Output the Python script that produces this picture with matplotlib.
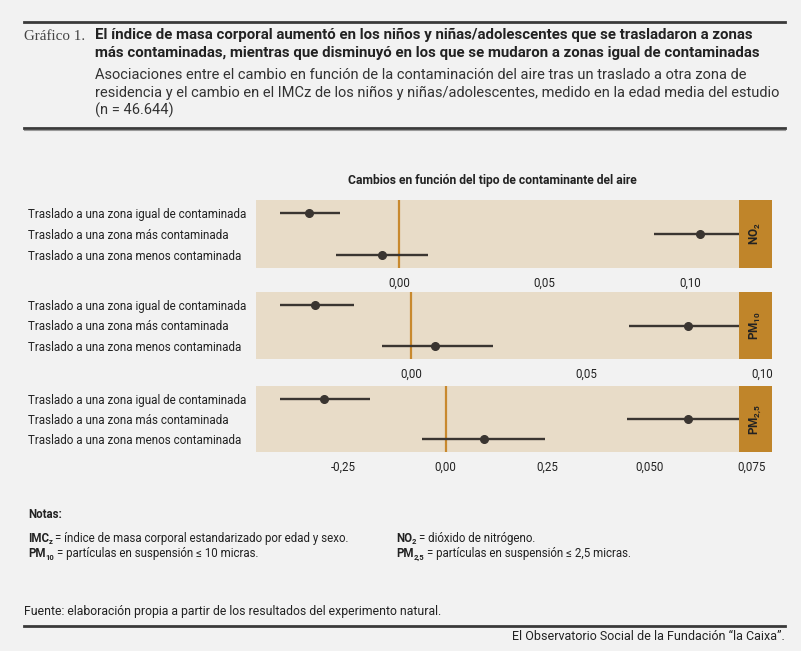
import matplotlib
matplotlib.use("Agg")
import matplotlib.pyplot as plt
from matplotlib.patches import Rectangle

plt.rcParams['font.family'] = ['Roboto', 'DejaVu Sans']
plt.rcParams['mathtext.fontset'] = 'custom'
plt.rcParams['mathtext.rm'] = 'Roboto'
plt.rcParams['mathtext.bf'] = 'Roboto:bold'

# datos
rows = ["Traslado a una zona igual de contaminada",
        "Traslado a una zona más contaminada",
        "Traslado a una zona menos contaminada"]
pollutants = [r"NO$_\mathbf{2}$", r"PM$_\mathbf{10}$", r"PM$_\mathbf{2{,}5}$"]

no2_est = [-0.0309, 0.1036, -0.0058]
no2_low = [-0.0410, 0.0876, -0.0217]
no2_high = [-0.0203, 0.1196, 0.0100]

pm10_est = [-0.0273, 0.0789, 0.0068]
pm10_low = [-0.0374, 0.0619, -0.0082]
pm10_high = [-0.0163, 0.0959, 0.0233]

pm25_est = [-0.0298, 0.0593, 0.0093]
pm25_low = [-0.0405, 0.0443, -0.0057]
pm25_high = [-0.0186, 0.0743, 0.0244]

ticks = [[0.0, 0.05, 0.10], [0.0, 0.05, 0.10], [-0.025, 0.0, 0.025, 0.05, 0.075]]
tick_labels = [["0,00", "0,05", "0,10"], ["0,00", "0,05", "0,10"],
               ["-0,25", "0,00", "0,25", "0,050", "0,075"]]
xlims = [(-0.0491, 0.1282), (-0.0441, 0.1027), (-0.0464, 0.0799)]

W, H = 801, 651
BG = "#f2f2f2"
PANEL = "#e8dcc8"
STRIP = "#c0852a"
ZERO = "#c8892e"
INK = "#3a3531"

fig = plt.figure(figsize=(W / 100, H / 100), dpi=100, facecolor=BG)
renderer = fig.canvas.get_renderer()


def fx(x):
    return x / W


def fy(y):
    return 1 - y / H


def hline(x0, x1, y, lw, color):
    fig.add_artist(plt.Line2D([fx(x0), fx(x1)], [fy(y), fy(y)], lw=lw, color=color,
                              transform=fig.transFigure))


def note(x, y, bold, sub, rest, size=8.3):
    # texto en negrita + subíndice + resto, colocados uno tras otro
    t = fig.text(fx(x), fy(y), bold, fontsize=size, fontweight="bold",
                 color="#222222", va="baseline")
    x1 = t.get_window_extent(renderer).x1
    s = fig.text(x1 / W, fy(y + 2.5), sub, fontsize=5.5, fontweight="bold",
                 color="#222222", va="baseline")
    x2 = s.get_window_extent(renderer).x1
    fig.text(x2 / W + 0.003, fy(y), "= " + rest, fontsize=size, color="#222222",
             va="baseline")


# cabecera
hline(24, 785, 22, 2.0, "#3a3a3a")
fig.text(fx(24), fy(36), "Gráfico 1.", family="Liberation Serif", fontsize=10.8,
         color="#444444", va="center")
fig.text(fx(95), fy(35), "El índice de masa corporal aumentó en los niños y niñas/adolescentes que se trasladaron a zonas",
         fontsize=10.8, fontweight="bold", color="#222222", va="center")
fig.text(fx(95), fy(53), "más contaminadas, mientras que disminuyó en los que se mudaron a zonas igual de contaminadas",
         fontsize=10.8, fontweight="bold", color="#222222", va="center")
subtitle = ["Asociaciones entre el cambio en función de la contaminación del aire tras un traslado a otra zona de",
            "residencia y el cambio en el IMCz de los niños y niñas/adolescentes, medido en la edad media del estudio",
            "(n = 46.644)"]
for i, s in enumerate(subtitle):
    fig.text(fx(95), fy(75 + 17.5 * i), s, fontsize=10.5, color="#333333", va="center")
hline(24, 785, 127.5, 2.0, "#3a3a3a")
hline(24, 785, 129.5, 0.8, "#9a9a9a")

fig.text(fx(492), fy(181), "Cambios en función del tipo de contaminante del aire",
         fontsize=8.7, fontweight="bold", color="#222222", ha="center", va="center")

panels = [(200, 268), (292, 359), (386, 452)]
series = [(no2_est, no2_low, no2_high), (pm10_est, pm10_low, pm10_high),
          (pm25_est, pm25_low, pm25_high)]

for k, (top, bottom) in enumerate(panels):
    ax = fig.add_axes([fx(256), fy(bottom), fx(772) - fx(256), (bottom - top) / H])
    ax.set_facecolor(PANEL)
    for sp in ax.spines.values():
        sp.set_visible(False)
    est, low, high = series[k]
    ypos = list(range(len(rows)))
    ax.hlines(ypos, low, high, color=INK, lw=1.7, zorder=3)
    ax.plot(est, ypos, "o", color=INK, ms=5.5, zorder=4)
    ax.axvline(0, color=ZERO, lw=1.6, zorder=2)
    ax.set_xlim(*xlims[k])
    ax.set_ylim(2.62, -0.62)
    ax.set_xticks(ticks[k])
    ax.set_xticklabels(tick_labels[k])
    ax.set_yticks(ypos)
    ax.set_yticklabels(rows)
    ax.tick_params(axis="x", length=0, pad=6, labelsize=8.3, labelcolor="#222222")
    ax.tick_params(axis="y", length=0, pad=(256 - 28) * 0.72, labelsize=8.4,
                   labelcolor="#222222")
    for lbl in ax.get_yticklabels():
        lbl.set_horizontalalignment("left")
    sx = (739 - 256) / (772 - 256)
    ax.add_patch(Rectangle((sx, 0), 1 - sx, 1, transform=ax.transAxes,
                           facecolor=STRIP, edgecolor="none", zorder=5))
    ax.text((1 + sx) / 2, 0.5, pollutants[k], transform=ax.transAxes, rotation=90,
            ha="center", va="center", fontsize=8.5, fontweight="bold", color="#222222",
            zorder=6)

# notas
fig.text(fx(28), fy(514), "Notas:", fontsize=8.3, fontweight="bold", color="#222222", va="center")
note(28, 542, "IMC", "z", "índice de masa corporal estandarizado por edad y sexo.")
note(28, 557, "PM", "10", "partículas en suspensión ≤ 10 micras.")
note(396, 542, "NO", "2", "dióxido de nitrógeno.")
note(396, 557, "PM", "2,5", "partículas en suspensión ≤ 2,5 micras.")

fig.text(fx(24), fy(611), "Fuente: elaboración propia a partir de los resultados del experimento natural.",
         fontsize=8.8, color="#222222", va="center")
hline(24, 785, 626, 2.0, "#3a3a3a")
fig.text(fx(785), fy(636), "El Observatorio Social de la Fundación “la Caixa”.",
         fontsize=9.0, color="#222222", ha="right", va="center")

fig.savefig("out.png", dpi=100, facecolor=BG)
